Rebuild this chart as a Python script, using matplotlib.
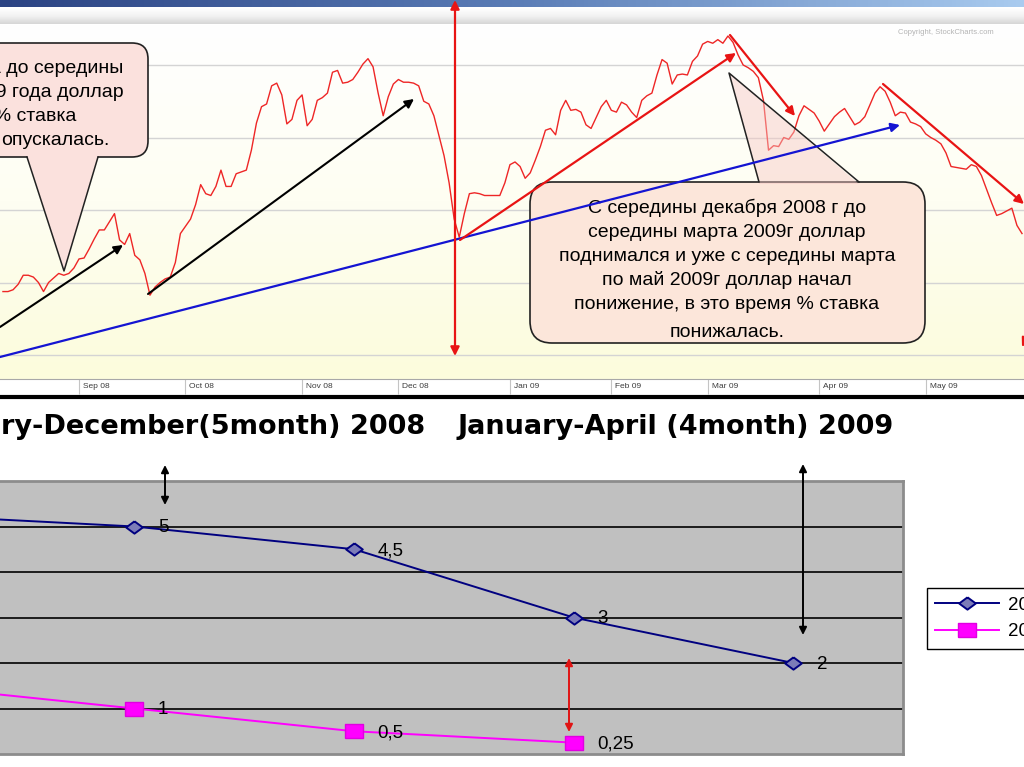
import numpy as np
import matplotlib
matplotlib.use("Agg")
import matplotlib.pyplot as plt
from matplotlib.colors import LinearSegmentedColormap
from matplotlib.patches import FancyBboxPatch, Polygon
from matplotlib.transforms import ScaledTranslation

plt.rcParams['font.family'] = ['Liberation Sans', 'DejaVu Sans']

W, H = 1024, 767

# dollar index, one value per trading day, day 0 = 1 Sep 2008
usd_first_day = -15
usd_index = [
    75.5, 75.5, 75.6, 75.9, 76.4, 76.4, 76.3, 76.0, 75.5, 76.0,
    76.25, 76.5, 76.4, 76.5, 76.8, 77.3, 77.35, 77.85, 78.4, 78.9,
    78.9, 79.35, 79.8, 78.35, 78.1, 78.7, 77.5, 77.25, 76.5, 75.3,
    75.75, 76.0, 76.2, 76.3, 77.1, 78.7, 79.1, 79.5, 80.3, 81.4,
    80.9, 80.8, 81.3, 82.2, 81.3, 81.3, 82.0, 82.1, 82.2, 83.3,
    84.8, 85.7, 85.85, 86.85, 87.0, 86.35, 84.75, 85.0, 86.05, 86.35,
    84.65, 85.0, 86.05, 86.2, 86.45, 87.6, 87.7, 87.0, 87.05, 87.2,
    87.6, 88.05, 88.35, 87.9, 86.45, 85.2, 86.25, 86.95, 87.2, 87.05,
    87.05, 87.0, 86.85, 86.0, 85.85, 85.2, 84.1, 83.0, 81.5, 79.5,
    78.5, 79.8, 80.9, 80.95, 80.9, 80.8, 80.8, 80.8, 80.8, 81.5,
    82.5, 82.65, 82.4, 81.75, 82.05, 82.75, 83.5, 84.4, 84.5, 84.15,
    85.5, 86.05, 85.5, 85.55, 85.4, 84.7, 84.5, 85.1, 85.7, 86.05,
    85.5, 85.4, 85.95, 85.8, 85.4, 85.1, 86.05, 86.3, 86.45, 87.45,
    88.3, 88.1, 86.95, 87.45, 87.5, 87.45, 88.2, 88.5, 89.15, 89.3,
    89.2, 89.4, 89.2, 89.6, 89.25, 88.55, 88.0, 87.85, 87.65, 87.3,
    86.05, 83.3, 83.55, 83.5, 84.0, 83.9, 84.3, 85.2, 85.75, 85.55,
    85.35, 84.9, 84.35, 84.75, 85.15, 85.4, 85.6, 85.15, 84.7, 84.85,
    85.15, 85.8, 86.45, 86.8, 86.55, 85.95, 85.2, 85.4, 85.35, 84.85,
    84.75, 84.6, 84.2, 84.0, 83.85, 83.65, 83.15, 82.4, 82.35, 82.3,
    82.25, 82.5, 82.4, 81.9, 81.15, 80.4, 79.7, 79.8, 79.95, 80.1,
    79.15, 78.7,
]
usd_days = np.arange(usd_first_day, usd_first_day + len(usd_index))
usd_grid = [72, 76, 80, 84, 88]

month_labels = ['Aug 08', 'Sep 08', 'Oct 08', 'Nov 08', 'Dec 08',
                'Jan 09', 'Feb 09', 'Mar 09', 'Apr 09', 'May 09']
month_start_day = [-21, 0, 21, 44, 63, 85, 105, 124, 146, 167]

# interest rates, %
rate_period = [0, 1, 2, 3, 4]
rate_blue = [5.25, 5, 4.5, 3, 2]
rate_pink = [1.5, 1, 0.5, 0.25]
rate_names = ['2008', '2009']

title_left = 'ry-December(5month) 2008'
title_right = 'January-April (4month) 2009'

note_left = ['С середины августа до середины',
             'марта 2009 года доллар',
             'поднимался, а % ставка',
             'опускалась.']
note_right = ['С середины декабря 2008 г до',
              'середины марта 2009г доллар',
              'поднимался и уже с середины марта',
              'по май 2009г доллар начал',
              'понижение, в это время % ставка',
              'понижалась.']


def box(left, top, right, bottom):
    return [left / W, 1 - bottom / H, (right - left) / W, (bottom - top) / H]


fig = plt.figure(figsize=(W / 100, H / 100), dpi=100)

# slide decorations behind everything
bg = fig.add_axes([0, 0, 1, 1], zorder=0)
bg.axis('off')
blue_cmap = LinearSegmentedColormap.from_list('band', ['#2b4383', '#5a7cb6', '#a9cbef'])
bg.imshow(np.linspace(0, 1, 256).reshape(1, -1), cmap=blue_cmap,
          extent=(0, W, 7, 0), aspect='auto')
gray_cmap = LinearSegmentedColormap.from_list('strip', ['#ffffff', '#f2f2f2', '#d6d6d6'])
bg.imshow(np.linspace(0, 1, 64).reshape(-1, 1), cmap=gray_cmap,
          extent=(0, W, 24, 8), aspect='auto')
bg.set_xlim(0, W)
bg.set_ylim(H, 0)

# top: dollar index chart
ax1 = fig.add_axes(box(0, 24, W, 379), zorder=1)
xlim1 = (-79 / 5.07, (W - 79) / 5.07)
ylim1 = (72 - 24 / 18.125, 88 + 41 / 18.125)
yel_cmap = LinearSegmentedColormap.from_list('yel', ['#ffffff', '#fefef2', '#fcfcdc'])
ax1.imshow(np.linspace(0, 1, 256).reshape(-1, 1), cmap=yel_cmap,
           extent=(*xlim1, *ylim1), aspect='auto', zorder=0)
ax1.set_yticks(usd_grid)
ax1.grid(axis='y', color='#d4d4d4', lw=1, zorder=1)
ax1.plot(usd_days, usd_index, color='#ee2626', lw=1.0, zorder=3)
ax1.set_xticks(month_start_day, month_labels)
ax1.set_xlim(*xlim1)
ax1.set_ylim(*ylim1)
ax1.tick_params(axis='x', direction='out', length=11, width=0.8, color='#c4c4c4',
                labelsize=6, labelcolor='#3c3c3c', pad=-8.3)
ax1.tick_params(axis='y', left=False, labelleft=False)
for lab in ax1.get_xticklabels():
    lab.set_horizontalalignment('left')
    lab.set_transform(lab.get_transform() + ScaledTranslation(0.04, 0, fig.dpi_scale_trans))
for side in ['top', 'left', 'right']:
    ax1.spines[side].set_visible(False)
ax1.spines['bottom'].set_color('#a8a8a8')

# bottom: interest rate chart
ax2 = fig.add_axes(box(-195, 481, 903, 754), zorder=1)
ax2.set_facecolor('#c0c0c0')
ax2.set_xlim(-0.5, 4.5)
ax2.set_ylim(0, 6)
ax2.set_yticks(range(1, 6))
ax2.set_xticks([])
ax2.grid(axis='y', color='black', lw=1.2)
ax2.tick_params(left=False, labelleft=False)
for sp in ax2.spines.values():
    sp.set_color('#8c8c8c')
    sp.set_linewidth(2)
diamond = [(0, 1), (1.35, 0), (0, -1), (-1.35, 0), (0, 1)]
rect = [(-1.35, -1), (1.35, -1), (1.35, 1), (-1.35, 1), (-1.35, -1)]
ax2.plot(rate_period, rate_blue, color='#000080', lw=1.4, marker=diamond, ms=12,
         mfc='#7c7cb8', mec='#000080', mew=1.4, label=rate_names[0], zorder=3)
ax2.plot(rate_period[:len(rate_pink)], rate_pink, color='#ff00ff', lw=1.4, marker=rect,
         ms=13, mfc='#ff00ff', mec='#e000e0', mew=1, label=rate_names[1], zorder=3)
for xs, ys in [(rate_period, rate_blue), (rate_period, rate_pink)]:
    for x, y in zip(xs, ys):
        ax2.annotate(f'{y:g}'.replace('.', ','), (x, y), xytext=(17, -1),
                     textcoords='offset points', ha='left', va='center',
                     fontsize=13.5, zorder=4)

fig.legend(handles=ax2.get_lines(), loc='upper left',
           bbox_to_anchor=(927 / W, 1 - 588 / H), fontsize=13.5, frameon=True,
           fancybox=False, edgecolor='black', framealpha=1, handlelength=3.4,
           handletextpad=0.45, borderpad=0.45, labelspacing=0.5, borderaxespad=0)

# overlay: callouts, arrows, titles
ov = fig.add_axes([0, 0, 1, 1], zorder=5)
ov.set_xlim(0, W)
ov.set_ylim(H, 0)
ov.axis('off')

ov.text(898, 33, 'Copyright, StockCharts.com', fontsize=5.5, color='#b4b4b4',
        ha='left', va='center')
ov.plot([0, W], [396.5, 396.5], color='black', lw=3, solid_capstyle='butt')

# left callout
ov.add_patch(FancyBboxPatch((-40, 43), 188, 114, boxstyle='round,pad=0,rounding_size=16',
                            fc='#fbe1dd', ec='#222222', lw=1.2, zorder=2))
ov.add_patch(Polygon([(27, 155), (98, 155), (64, 271)], closed=True,
                     fc='#fbe1dd', ec='none', zorder=2))
ov.plot([27, 64, 98], [157, 271, 157], color='#222222', lw=1.1, zorder=2)
for line, right, base in zip(note_left, [123, 124, 76, 110], [73, 97, 121, 145]):
    ov.text(right, base, line, ha='right', va='baseline', fontsize=14, zorder=3)

# right callout
ov.add_patch(FancyBboxPatch((530, 182), 395, 161, boxstyle='round,pad=0,rounding_size=22',
                            fc='#fce6da', ec='#222222', lw=1.2, zorder=2))
ov.add_patch(Polygon([(759, 184), (859, 184), (729, 73)], closed=True,
                     fc='#f6c8c4', alpha=0.45, ec='none', zorder=2))
ov.plot([759, 729, 859], [182, 73, 182], color='#222222', lw=1.1, zorder=2)
for line, base in zip(note_right, [213, 237, 261, 285, 309, 337]):
    ov.text(727, base, line, ha='center', va='baseline', fontsize=14, zorder=3)


def arrow(tail, head, color, lw=1.5, style='-|>', ms=13):
    ov.annotate('', xy=head, xytext=tail, annotation_clip=False, zorder=4,
                arrowprops=dict(arrowstyle=style, color=color, lw=lw,
                                mutation_scale=ms, shrinkA=0, shrinkB=0))


arrow((0, 327), (123, 245), 'black')
arrow((148, 294), (414, 99), 'black')
arrow((0, 357), (900, 125), '#1414d2', lw=1.6)
arrow((455, 0), (455, 356), '#e81414', lw=1.6, style='<|-|>')
arrow((460, 240), (736, 53), '#e81414', lw=1.6)
arrow((730, 35), (795, 116), '#e81414', lw=1.6)
arrow((883, 84), (1024, 204), '#e81414', lw=1.6)
arrow((1030, 330), (1022, 347), '#e81414', lw=1.6)

arrow((165, 465), (165, 505), 'black', lw=1.4, style='<|-|>', ms=11)
arrow((803, 464), (803, 635), 'black', lw=1.4, style='<|-|>', ms=11)
arrow((569, 658), (569, 732), '#e01414', lw=1.4, style='<|-|>', ms=11)

ov.text(425, 434, title_left, ha='right', va='baseline', fontsize=19.5,
        fontweight='bold', family='DejaVu Sans')
ov.text(457, 434, title_right, ha='left', va='baseline', fontsize=19.5,
        fontweight='bold', family='DejaVu Sans')

fig.savefig('out.png', dpi=100)
